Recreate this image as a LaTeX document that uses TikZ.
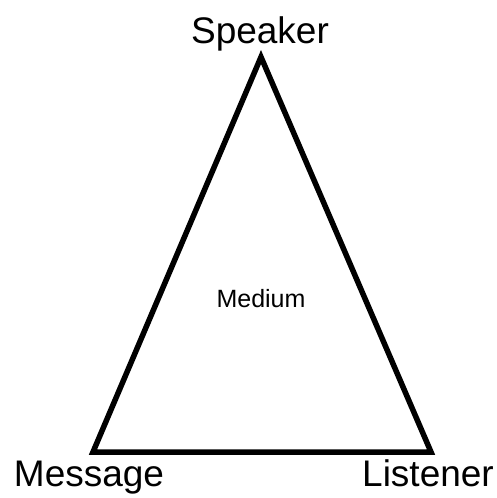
\documentclass[tikz,border=0pt]{standalone}
\usepackage{fontspec}
\setmainfont{Liberation Sans}
\usetikzlibrary{calc}

\begin{document}
\begin{tikzpicture}[x=1pt,y=-1pt]
\tikzset{corner/.style={font=\fontsize{37}{42}\selectfont,inner sep=0pt,anchor=base}}
\useasboundingbox (0,0) rectangle (497,498);
\coordinate (s) at (261,57);
\coordinate (m) at (93,452);
\coordinate (l) at (431,452);
\node (speaker) at (260,43) [corner] {Speaker};
\node (message) at (89,486) [corner] {Message};
\node (listener) at (428,486) [corner] {Listener};
\node (medium) at (261,307) [inner sep=0pt,anchor=base,font=\fontsize{25}{30}\selectfont] {Medium};

\draw [line width=5.5pt, line join=miter] (s) -- (m) -- (l) -- cycle;
\end{tikzpicture}
\end{document}
